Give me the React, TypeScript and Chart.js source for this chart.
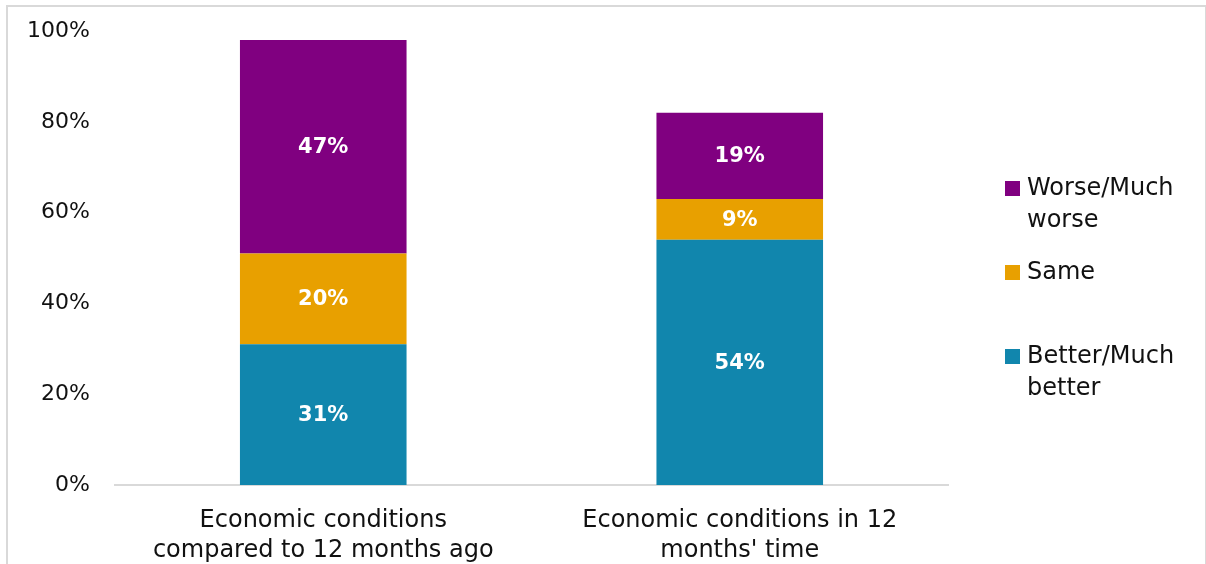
import React, { useEffect, useRef } from 'react';
import { Chart, registerables } from 'chart.js';

Chart.register(...registerables);

const categories = [
  ['Economic conditions', 'compared to 12 months ago'],
  ['Economic conditions in 12', "months' time"],
];
const seriesNames = ['Better/Much better', 'Same', 'Worse/Much worse'];
const legendLines = [['Better/Much', 'better'], ['Same'], ['Worse/Much', 'worse']];
const betterValues = [31, 54];
const sameValues = [20, 9];
const worseValues = [47, 19];
const seriesColors = ['#1186AD', '#E8A000', '#800080'];
const yTickValues = [0, 20, 40, 60, 80, 100];

const FONT = "'DejaVu Sans', sans-serif";

const dataLabelPlugin = {
  id: 'dataLabels',
  afterDatasetsDraw(chart: any) {
    const ctx = chart.ctx;
    ctx.save();
    ctx.fillStyle = '#ffffff';
    ctx.font = `bold 21px ${FONT}`;
    ctx.textAlign = 'center';
    ctx.textBaseline = 'middle';
    chart.data.datasets.forEach((ds: any, di: number) => {
      const meta = chart.getDatasetMeta(di);
      meta.data.forEach((el: any, i: number) => {
        const { x, y, base } = el.getProps(['x', 'y', 'base'], true);
        ctx.fillText(`${ds.data[i]}%`, x, (y + base) / 2 + 1);
      });
    });
    ctx.restore();
  },
};

const legendPlugin = {
  id: 'customLegend',
  afterDraw(chart: any) {
    const ctx = chart.ctx;
    ctx.save();
    ctx.font = `24px ${FONT}`;
    ctx.textBaseline = 'middle';
    ctx.textAlign = 'left';
    const order = [2, 1, 0];
    order.forEach((di, k) => {
      const y0 = 189 + k * 84;
      ctx.fillStyle = seriesColors[di];
      ctx.fillRect(1005, y0 - 8, 15, 15);
      ctx.fillStyle = '#111111';
      legendLines[di].forEach((line, li) => {
        ctx.fillText(line, 1027, y0 + li * 32);
      });
    });
    ctx.restore();
  },
};

export default function App() {
  const ref = useRef<HTMLCanvasElement>(null);
  useEffect(() => {
    if (!ref.current) return;
    const values = [betterValues, sameValues, worseValues];
    const chart = new Chart(ref.current, {
      type: 'bar',
      data: {
        labels: categories as any,
        datasets: seriesNames.map((name, i) => ({
          label: name,
          data: values[i],
          backgroundColor: seriesColors[i],
          borderWidth: 0,
          categoryPercentage: 1,
          barPercentage: 0.4,
        })),
      },
      options: {
        responsive: false,
        animation: false,
        layout: { padding: { top: 31, right: 258, left: 0, bottom: 0 } },
        plugins: {
          legend: { display: false },
          tooltip: { enabled: false },
        },
        scales: {
          x: {
            stacked: true,
            grid: { display: false, drawTicks: false },
            border: { display: true, color: '#d9d9d9', width: 2 },
            ticks: {
              color: '#111111',
              font: { family: FONT, size: 24, lineHeight: 1.25 },
              padding: 21,
              maxRotation: 0,
              autoSkip: false,
            },
            afterFit: (s: any) => { s.height = 79; },
          },
          y: {
            stacked: true,
            min: 0,
            max: 100,
            grid: { display: false, drawTicks: false },
            border: { display: false },
            afterBuildTicks: (s: any) => { s.ticks = yTickValues.map((v) => ({ value: v })); },
            ticks: {
              color: '#111111',
              font: { family: FONT, size: 22 },
              padding: 25,
              callback: (v: any) => `${v}%`,
            },
            afterFit: (s: any) => {
              s.width = 115;
              s.paddingTop = 12;
              s.paddingBottom = 12;
            },
          },
        },
      },
      plugins: [dataLabelPlugin, legendPlugin],
    });
    return () => chart.destroy();
  }, []);

  return (
    <div style={{ position: 'fixed', left: 0, top: 0, width: 1206, height: 564, background: '#fff', overflow: 'hidden' }}>
      <div style={{ position: 'absolute', left: 6, top: 5, width: 1197, height: 600, border: '2px solid #d9d9d9' }} />
      <canvas ref={ref} width={1206} height={564} style={{ position: 'absolute', left: 0, top: 0, display: 'block' }} />
    </div>
  );
}
